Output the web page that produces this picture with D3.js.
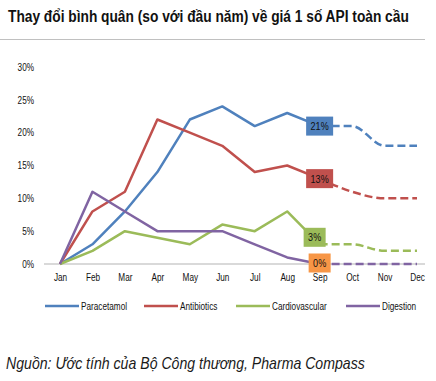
<!DOCTYPE html>
<html><head><meta charset="utf-8">
<script src="https://cdn.jsdelivr.net/npm/d3@7"></script>
<style>body{margin:0;background:#fff}svg{display:block}</style>
</head><body>
<script>
const months = ["Jan","Feb","Mar","Apr","May","Jun","Jul","Aug","Sep","Oct","Nov","Dec"];
const yTicks = [0,5,10,15,20,25,30];
const seriesNames = ["Paracetamol","Antibiotics","Cardiovascular","Digestion"];
const paracetamol    = [0,3,8,14,22,24,21,23,21,21,18,18];
const antibiotics    = [0,8,11,22,20,18,14,15,13,11,10,10];
const cardiovascular = [0,2,5,4,3,6,5,8,3,3,2,2];
const digestion      = [0,11,8,5,5,5,3,1,0,0,0,0];
const labelMonth = "Sep";
const labelTexts = ["21%","13%","3%","0%"];

const colors = ["#4F81BD","#C0504D","#9BBB59","#8064A2"];
const boxColors = ["#4F81BD","#C0504D","#9BBB59","#F79646"];
const boxOffsets = [[0,0],[0,0],[-5,-7],[0,-1]];
const font = "'Liberation Sans',Arial,sans-serif";

// condense text horizontally to mimic Arial Narrow
function narrow(sel, k=0.82){
  sel.each(function(){
    const L=this.getComputedTextLength();
    if(L>0) d3.select(this).attr("textLength",L*k).attr("lengthAdjust","spacingAndGlyphs");
  });
}
// fit a text to a target width via horizontal scaling
function fitScale(g, tx, ty, target){
  const t=g.select("text").node();
  const L=t.getComputedTextLength();
  g.attr("transform",`translate(${tx},${ty}) scale(${target/L},1)`);
}

const W=436,H=381;
const svg=d3.select("body").append("svg").attr("width",W).attr("height",H);

const tg=svg.append("g");
tg.append("text").attr("x",0).attr("y",0).attr("font-family",font).attr("font-weight","bold")
  .attr("font-size",16).attr("fill","#111")
  .text("Thay đổi bình quân (so với đầu năm) về giá 1 số API toàn cầu");
fitScale(tg,8,22,401);
svg.append("line").attr("x1",0).attr("x2",425).attr("y1",39.5).attr("y2",39.5).attr("stroke","#c0c0c0").attr("stroke-width",1);

const x=d3.scalePoint().domain(months).range([60,417]);
const y=d3.scaleLinear().domain([0,30]).range([264,67]);

svg.append("line").attr("x1",44).attr("x2",425).attr("y1",y(0)).attr("y2",y(0)).attr("stroke","#d9d9d9").attr("stroke-width",2);

const ya=svg.append("g").attr("transform","translate(34,0)")
  .call(d3.axisLeft(y).tickValues(yTicks).tickSize(0).tickPadding(0).tickFormat(d=>d+"%"));
ya.select(".domain").remove();
ya.selectAll("text").attr("font-family",font).attr("font-size",10).attr("fill","#111").call(narrow);

const xa=svg.append("g").attr("transform",`translate(0,${y(0)})`)
  .call(d3.axisBottom(x).tickSize(0).tickPadding(10));
xa.select(".domain").remove();
xa.selectAll("text").attr("font-family",font).attr("font-size",10).attr("fill","#111").call(narrow);

const all=[paracetamol,antibiotics,cardiovascular,digestion];
const si=months.indexOf(labelMonth);
const solid=d3.line().x(d=>x(d.m)).y(d=>y(d.v));
const dashed=d3.line().x(d=>x(d.m)).y(d=>y(d.v)).curve(d3.curveMonotoneX);

all.forEach((vals,i)=>{
  const pts=vals.map((v,j)=>({m:months[j],v}));
  svg.append("path").attr("d",dashed(pts.slice(si))).attr("fill","none").attr("stroke",colors[i])
    .attr("stroke-width",2.5).attr("stroke-dasharray","8,4");
  svg.append("path").attr("d",solid(pts.slice(0,si+1))).attr("fill","none").attr("stroke",colors[i])
    .attr("stroke-width",2.5).attr("stroke-linejoin","round");
});

all.forEach((vals,i)=>{
  const cx=x(labelMonth)+boxOffsets[i][0], cy=y(vals[si])+boxOffsets[i][1];
  const w=labelTexts[i].length>2?27:22, h=19;
  svg.append("rect").attr("x",cx-w/2).attr("y",cy-h/2).attr("width",w).attr("height",h).attr("fill",boxColors[i]);
  svg.append("text").attr("x",cx).attr("y",cy+4).attr("text-anchor","middle").attr("font-family",font)
    .attr("font-size",11).attr("fill","#111").text(labelTexts[i]).call(narrow);
});

const legX=[45,144,236,346];
seriesNames.forEach((n,i)=>{
  svg.append("line").attr("x1",legX[i]).attr("x2",legX[i]+34).attr("y1",306).attr("y2",306)
    .attr("stroke",colors[i]).attr("stroke-width",2.5);
  svg.append("text").attr("x",legX[i]+36).attr("y",309.5).attr("font-family",font).attr("font-size",10)
    .attr("fill","#111").text(n).call(narrow);
});

const sg=svg.append("g");
sg.append("text").attr("x",0).attr("y",0).attr("font-family",font).attr("font-style","italic")
  .attr("font-size",16).attr("fill","#1a1a1a")
  .text("Nguồn: Ước tính của Bộ Công thương, Pharma Compass");
fitScale(sg,6,369,359);
</script>
</body></html>
